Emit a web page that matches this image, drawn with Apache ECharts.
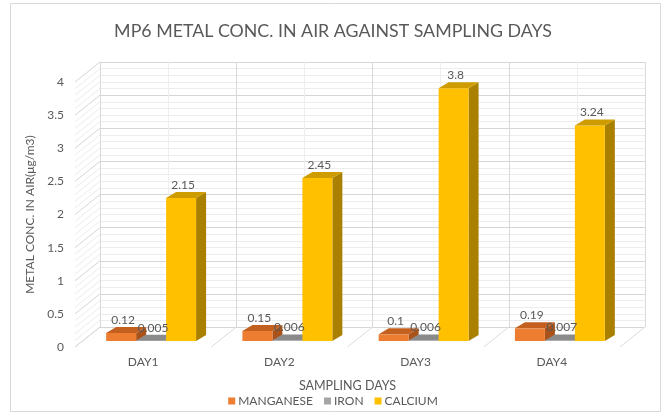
<!DOCTYPE html>
<html>
<head>
<meta charset="utf-8">
<script src="https://cdn.jsdelivr.net/npm/echarts@6/dist/echarts.min.js"></script>
<style>
  html, body { margin: 0; padding: 0; background: #ffffff; }
  #chart { width: 666px; height: 414px; }
</style>
</head>
<body>
<div id="chart"></div>
<script>
// Sampling days and metal concentrations (µg/m3)
const days = ['DAY1', 'DAY2', 'DAY3', 'DAY4'];
const manganese = [0.12, 0.15, 0.1, 0.19];
const iron = [0.005, 0.006, 0.006, 0.007];
const calcium = [2.15, 2.45, 3.8, 3.24];
const yTicks = { min: 0, max: 4, step: 0.5 };

const seriesDefs = [
  { name: 'MANGANESE', data: manganese, front: '#ED7D31', top: '#C4601F', side: '#A9521A' },
  { name: 'IRON',      data: iron,      front: '#A5A5A5', top: '#8A8A8A', side: '#767676' },
  { name: 'CALCIUM',   data: calcium,   front: '#FFC000', top: '#CF9C00', side: '#A98000' }
];

const FONT = 'Lato';
const TXT = '#595959';
// oblique offset of the back wall relative to the front plane
const WALL_DX = 25, WALL_DY = -20;
// depth of each column
const BAR_DX = 10, BAR_DY = -6;

const chart = echarts.init(document.getElementById('chart'), null, { renderer: 'canvas' });

function barSeries(def, idx) {
  return {
    name: def.name,
    type: 'custom',
    xAxisIndex: 2, yAxisIndex: 2,
    itemStyle: { color: def.front },
    z: 3,
    data: def.data.map((v, i) => [i, v]),
    renderItem: function (params, api) {
      const cat = api.value(0), val = api.value(1);
      const topPt = api.coord([cat, val]);
      const basePt = api.coord([cat, 0]);
      const band = api.size([1, 0])[0];
      const bw = band * 0.22;
      const left = topPt[0] - 1.5 * bw + idx * bw;
      const right = left + bw;
      const yT = topPt[1], yB = basePt[1];
      return {
        type: 'group',
        children: [
          { type: 'polygon', shape: { points: [[right, yT], [right + BAR_DX, yT + BAR_DY], [right + BAR_DX, yB + BAR_DY], [right, yB]] },
            style: { fill: def.side } },
          { type: 'rect', shape: { x: left, y: yT, width: bw, height: yB - yT },
            style: { fill: def.front } },
          { type: 'polygon', shape: { points: [[left, yT], [right, yT], [right + BAR_DX, yT + BAR_DY], [left + BAR_DX, yT + BAR_DY]] },
            style: { fill: def.top } },
          { type: 'text', z2: 100,
            style: { text: String(val), x: left + bw / 2 + 2, y: yT - 13, align: 'center', verticalAlign: 'middle',
                     font: '12px ' + FONT, fill: TXT } }
        ]
      };
    }
  };
}

// left side wall: oblique lines joining each value on the front plane to the back wall
const sideWallSeries = {
  type: 'custom',
  xAxisIndex: 1, yAxisIndex: 1,
  silent: true, z: 1,
  data: [[0]],
  renderItem: function (params, api) {
    const children = [];
    for (let i = 0; i <= 40; i++) {
      const v = i / 10;
      const back = api.coord([0, v]);
      const major = i % 5 === 0;
      children.push({ type: 'line',
        shape: { x1: back[0] - WALL_DX, y1: back[1] - WALL_DY, x2: back[0], y2: back[1] },
        style: { stroke: major ? '#d6d6d6' : '#ececec', lineWidth: 1 } });
    }
    // floor: oblique lines at the category boundaries
    for (let k = 0; k <= days.length; k++) {
      const back = api.coord([k, 0]);
      children.push({ type: 'line',
        shape: { x1: back[0] - WALL_DX, y1: back[1] - WALL_DY, x2: back[0], y2: back[1] },
        style: { stroke: '#dcdcdc', lineWidth: 1 } });
    }
    return { type: 'group', children: children };
  }
};

const option = {
  backgroundColor: '#ffffff',
  animation: false,
  textStyle: { fontFamily: FONT },
  title: {
    text: 'MP6 METAL CONC. IN AIR AGAINST SAMPLING DAYS',
    left: 'center', top: 17,
    textStyle: { fontFamily: FONT, fontSize: 17.8, fontWeight: 'normal', color: TXT }
  },
  legend: {
    bottom: 2, left: 'center',
    itemWidth: 7, itemHeight: 7, itemGap: 11,
    icon: 'rect',
    textStyle: { fontFamily: FONT, fontSize: 12, color: TXT, padding: [0, 0, 0, -2] },
    data: seriesDefs.map(d => d.name)
  },
  graphic: [
    { type: 'rect', shape: { x: 10.5, y: 3.5, width: 650, height: 408 },
      style: { fill: null, stroke: '#d9d9d9', lineWidth: 1 }, silent: true, z: -1 }
  ],
  grid: [
    // front plane (axis labels)
    { left: 75, right: 46, top: 82, bottom: 67 },
    // back wall
    { left: 100, right: 21, top: 62, bottom: 87 },
    // column front faces
    { left: 83, right: 38, top: 75, bottom: 73 }
  ],
  xAxis: [
    { gridIndex: 0, type: 'category', data: days,
      axisLine: { show: false }, axisTick: { show: false },
      axisLabel: { color: TXT, fontFamily: FONT, fontSize: 12, margin: 9 },
      name: 'SAMPLING DAYS', nameLocation: 'middle', nameGap: 32,
      nameTextStyle: { color: TXT, fontFamily: FONT, fontSize: 12.5 } },
    { gridIndex: 1, type: 'value', min: 0, max: 4, interval: 1,
      axisLine: { show: false }, axisTick: { show: false }, axisLabel: { show: false },
      splitLine: { show: true, lineStyle: { color: '#d9d9d9' } },
      minorTick: { show: false, splitNumber: 2 },
      minorSplitLine: { show: true, lineStyle: { color: '#eeeeee' } } },
    { gridIndex: 2, type: 'category', data: days, show: false }
  ],
  yAxis: [
    { gridIndex: 0, type: 'value', min: yTicks.min, max: yTicks.max, interval: yTicks.step,
      axisLine: { show: false }, axisTick: { show: false }, splitLine: { show: false },
      axisLabel: { color: TXT, fontFamily: FONT, fontSize: 12, margin: 11 },
      name: 'METAL CONC. IN AIR(μg/m3)', nameLocation: 'middle', nameGap: 27,
      nameTextStyle: { color: TXT, fontFamily: FONT, fontSize: 12 } },
    { gridIndex: 1, type: 'value', min: yTicks.min, max: yTicks.max, interval: yTicks.step,
      axisLine: { show: false }, axisTick: { show: false }, axisLabel: { show: false },
      splitLine: { show: true, lineStyle: { color: '#d6d6d6' } },
      minorTick: { show: false, splitNumber: 5 },
      minorSplitLine: { show: true, lineStyle: { color: '#ededed' } } },
    { gridIndex: 2, type: 'value', min: yTicks.min, max: yTicks.max, show: false }
  ],
  series: [sideWallSeries].concat(seriesDefs.map(barSeries))
};

chart.setOption(option);
</script>
</body>
</html>
